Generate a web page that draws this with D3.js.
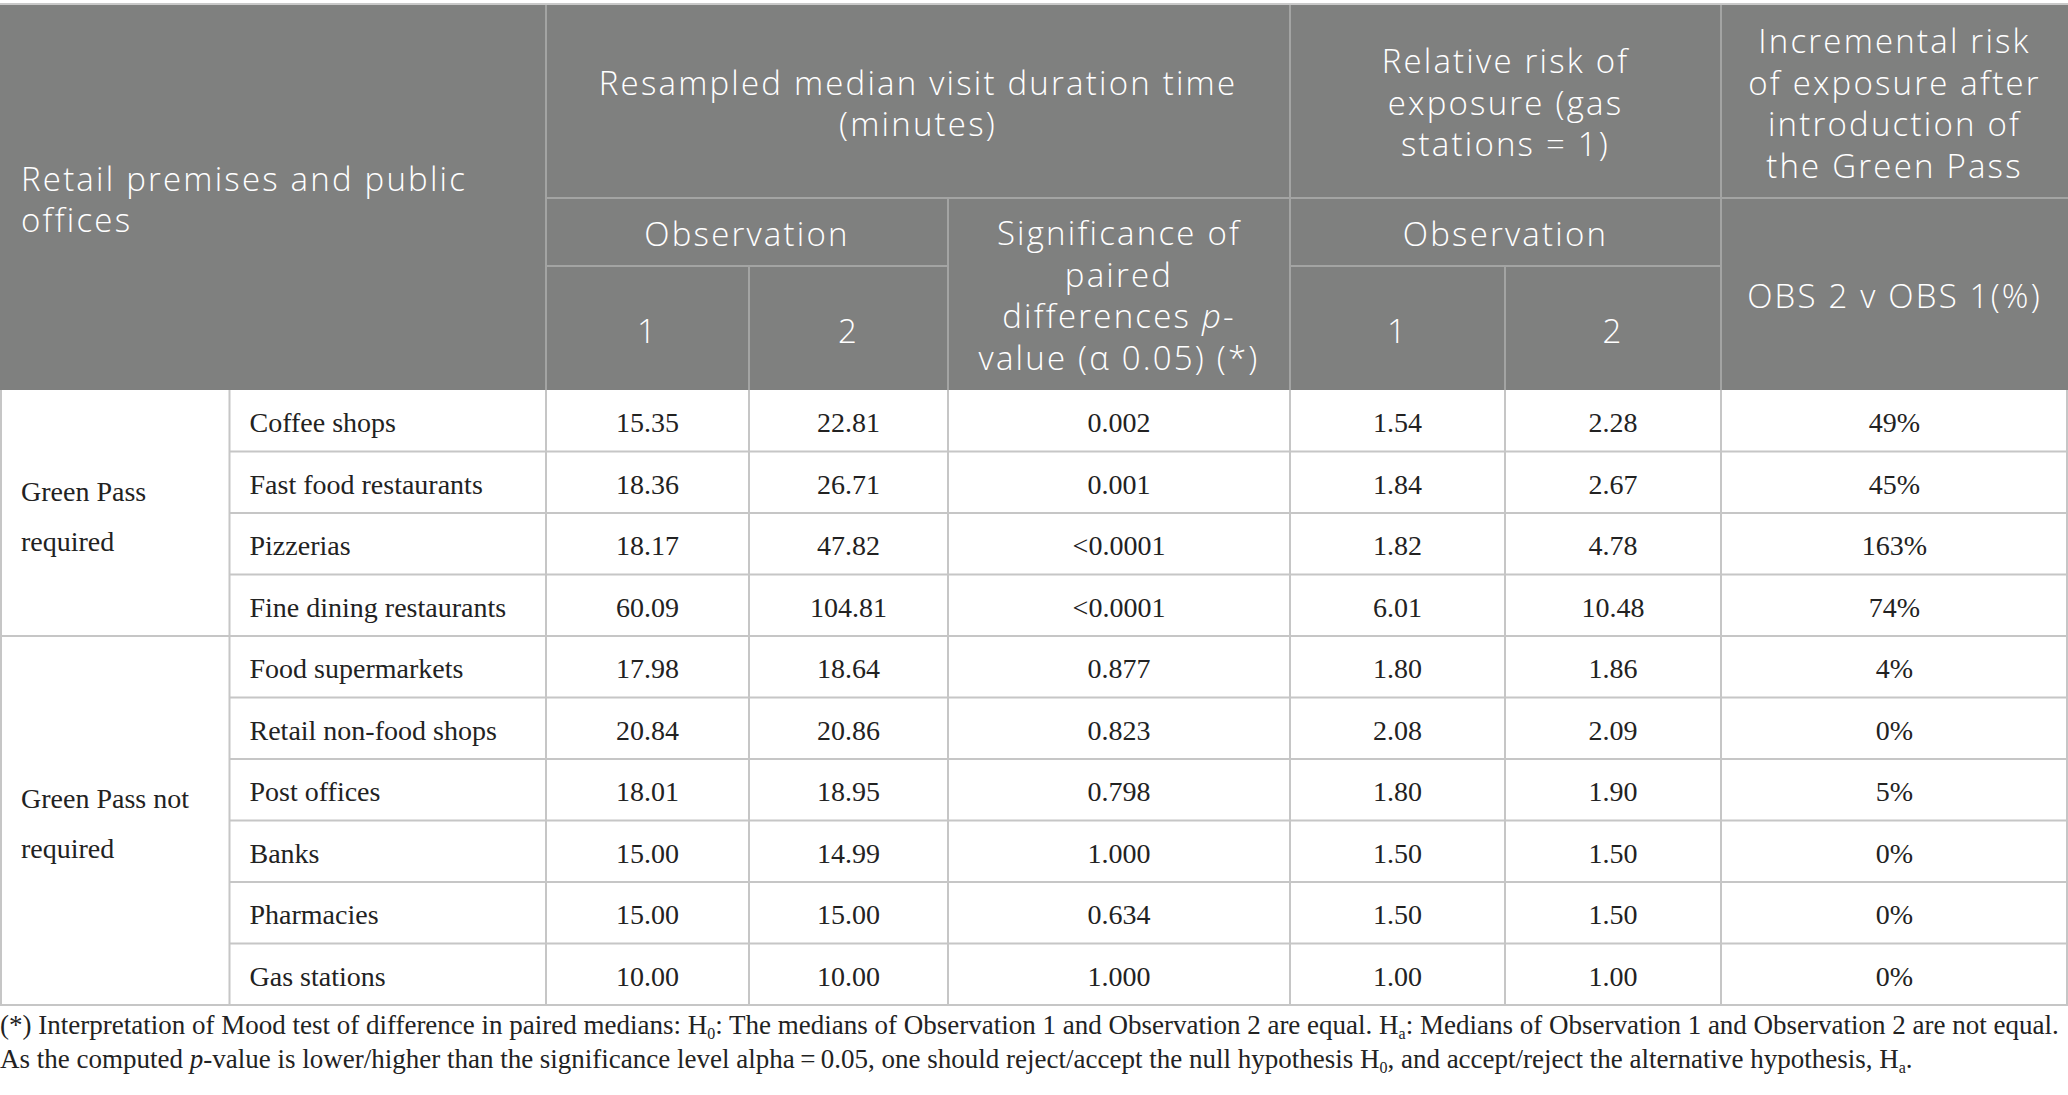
<!DOCTYPE html>
<html><head><meta charset="utf-8">
<script src="https://cdn.jsdelivr.net/npm/d3@7/dist/d3.min.js"></script>
<style>
html,body{margin:0;padding:0;background:#fff;}
svg{display:block;}
</style></head>
<body>
<svg id="c" width="2068" height="1095"></svg>
<script>
// ---------- data ----------
const groups = ["Green Pass required", "Green Pass not required"];
const groupSizes = [4, 6];
const categories = ["Coffee shops","Fast food restaurants","Pizzerias","Fine dining restaurants",
  "Food supermarkets","Retail non-food shops","Post offices","Banks","Pharmacies","Gas stations"];
const obs1 = ["15.35","18.36","18.17","60.09","17.98","20.84","18.01","15.00","15.00","10.00"];
const obs2 = ["22.81","26.71","47.82","104.81","18.64","20.86","18.95","14.99","15.00","10.00"];
const pValues = ["0.002","0.001","<0.0001","<0.0001","0.877","0.823","0.798","1.000","0.634","1.000"];
const risk1 = ["1.54","1.84","1.82","6.01","1.80","2.08","1.80","1.50","1.50","1.00"];
const risk2 = ["2.28","2.67","4.78","10.48","1.86","2.09","1.90","1.50","1.50","1.00"];
const incremental = ["49%","45%","163%","74%","4%","0%","5%","0%","0%","0%"];

// ---------- layout ----------
const W = 2068;
const colEdges = [0, 229.5, 546, 749, 948, 1290, 1505, 1721, 2068];
const headTop = 5, headR1 = 198, headR2 = 266, headBot = 390, bodyBot = 1005;
const headBg = "#7f807f", headLine = "#a3a4a3", bodyLine = "#c6c6c6";
const sans = "'Open Sans', 'Noto Sans', sans-serif";
const serif = "'Liberation Serif', 'Times New Roman', serif";

const svg = d3.select("#c");
const y = d3.scaleBand().domain(d3.range(categories.length)).range([headBot, bodyBot]);
const cx = i => (colEdges[i] + colEdges[i+1]) / 2;

svg.append("line").attr("x1",0).attr("x2",W).attr("y1",4).attr("y2",4)
  .attr("stroke","#c9c9c9").attr("stroke-width",2);
svg.append("rect").attr("x",0).attr("y",headTop).attr("width",W).attr("height",headBot-headTop).attr("fill",headBg);

const hl = (x1,x2,y1,y2,c,w) => svg.append("line").attr("x1",x1).attr("x2",x2).attr("y1",y1).attr("y2",y2)
  .attr("stroke",c).attr("stroke-width",w||2);

hl(colEdges[2], W, headR1, headR1, headLine);
hl(colEdges[2], colEdges[4], headR2, headR2, headLine);
hl(colEdges[5], colEdges[7], headR2, headR2, headLine);
hl(colEdges[2], colEdges[2], headTop, headBot, headLine);
hl(colEdges[5], colEdges[5], headTop, headBot, headLine);
hl(colEdges[7], colEdges[7], headTop, headBot, headLine);
hl(colEdges[3], colEdges[3], headR2, headBot, headLine);
hl(colEdges[4], colEdges[4], headR1, headBot, headLine);
hl(colEdges[6], colEdges[6], headR2, headBot, headLine);

function htext(lines, x, yCenter, anchor, lh) {
  lh = lh || 41.5;
  const t = svg.append("text").attr("font-family",sans).attr("font-size",33).attr("font-weight",300)
    .attr("letter-spacing",2.2).attr("fill","#fff").attr("text-anchor",anchor||"middle");
  const n = lines.length;
  lines.forEach((ln,i) => {
    const ts = t.append("tspan").attr("x",x).attr("y", yCenter + (i-(n-1)/2)*lh).attr("dominant-baseline","central");
    if (Array.isArray(ln)) ln.forEach(p => { const s = ts.append("tspan").text(p.t); if (p.i) s.attr("font-style","italic"); });
    else ts.text(ln);
  });
  return t;
}
htext(["Retail premises and public","offices"], 21, 199, "start");
htext(["Resampled median visit duration time","(minutes)"], (colEdges[2]+colEdges[5])/2, 103);
htext(["Relative risk of","exposure (gas","stations = 1)"], (colEdges[5]+colEdges[7])/2, 102);
htext(["Incremental risk","of exposure after","introduction of","the Green Pass"], cx(7), 103);
htext(["Observation"], (colEdges[2]+colEdges[4])/2, 233);
htext(["Observation"], (colEdges[5]+colEdges[7])/2, 233);
htext(["Significance of","paired",[{t:"differences "},{t:"p",i:true},{t:"-"}],"value (\u03b1 0.05) (*)"], cx(4), 295);
htext(["1"], cx(2), 330); htext(["2"], cx(3), 330);
htext(["1"], cx(5), 330); htext(["2"], cx(6), 330);
htext(["OBS 2 v OBS 1(%)"], cx(7), 295);

const starts = [0, groupSizes[0]];
categories.forEach((c,i) => {
  if (i === 0) return;
  const isGroup = starts.includes(i);
  hl(isGroup ? 0 : colEdges[1], W, y(i), y(i), bodyLine);
});
hl(0, W, bodyBot, bodyBot, bodyLine);
colEdges.forEach((x,i) => {
  const xx = i===colEdges.length-1 ? x-1 : (i===0 ? 1 : x);
  hl(xx, xx, headBot, bodyBot, bodyLine);
});

const cols = [obs1, obs2, pValues, risk1, risk2, incremental];
const fs = 28;
categories.forEach((c,i) => {
  const yc = y(i) + y.bandwidth()/2 + 2;
  svg.append("text").attr("x", colEdges[1]+20).attr("y", yc).attr("dominant-baseline","central")
    .attr("font-family",serif).attr("font-size",fs).attr("fill","#222").text(c);
  cols.forEach((arr,k) => {
    svg.append("text").attr("x", cx(k+2)).attr("y", yc).attr("dominant-baseline","central")
      .attr("text-anchor","middle").attr("font-family",serif).attr("font-size",fs).attr("fill","#222").text(arr[i]);
  });
});
const groupLines = [["Green Pass","required"],["Green Pass not","required"]];
groupLines.forEach((lines,g) => {
  const a = y(starts[g]), b = g===0 ? y(groupSizes[0]) : bodyBot;
  const mid = (a+b)/2 + 3;
  lines.forEach((ln,j) => {
    svg.append("text").attr("x",21).attr("y", mid + (j-0.5)*50).attr("dominant-baseline","central")
      .attr("font-family",serif).attr("font-size",fs).attr("fill","#222").text(ln);
  });
});

function foot(parts, yy) {
  const t = svg.append("text").attr("x",0).attr("y",yy).attr("dominant-baseline","central")
    .attr("font-family",serif).attr("font-size",27).attr("fill","#222");
  parts.forEach(p => {
    const s = t.append("tspan").text(p.t);
    if (p.i) s.attr("font-style","italic");
    if (p.sub) s.attr("font-size",16).attr("baseline-shift","sub");
  });
}
foot([{t:"(*) Interpretation of Mood test of difference in paired medians: H"},{t:"0",sub:true},
  {t:": The medians of Observation 1 and Observation 2 are equal. H"},{t:"a",sub:true},
  {t:": Medians of Observation 1 and Observation 2 are not equal."}], 1025);
foot([{t:"As the computed "},{t:"p",i:true},{t:"-value is lower/higher than the significance level alpha\u2009=\u20090.05, one should reject/accept the null hypothesis H"},{t:"0",sub:true},
  {t:", and accept/reject the alternative hypothesis, H"},{t:"a",sub:true},{t:"."}], 1059);
</script>
</body></html>
